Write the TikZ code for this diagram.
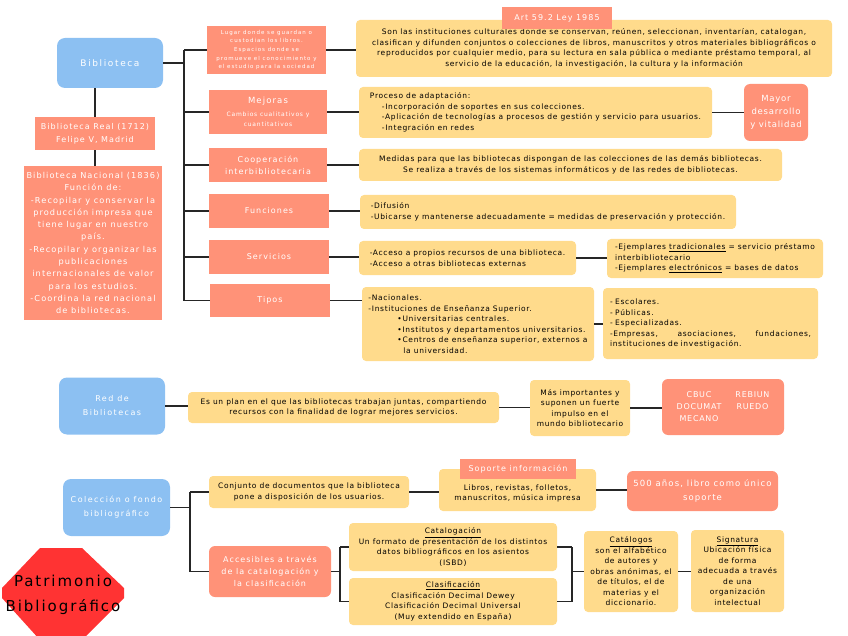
\documentclass[tikz,border=0pt]{standalone}
\usepackage{fontspec}
\newfontfamily\mapfont[LetterSpace=9]{DejaVu Sans}
\newfontfamily\tagfont[LetterSpace=13]{DejaVu Sans}
\newfontfamily\widefont[LetterSpace=18]{DejaVu Sans}

\definecolor{mapblue}{RGB}{140,192,242}
\definecolor{mapsalmon}{RGB}{255,146,120}
\definecolor{mapyellow}{RGB}{255,219,140}
\definecolor{mapred}{RGB}{255,51,51}

\tikzset{
    boxsize/.style 2 args={minimum width=#1pt, minimum height=#2pt},
    hub/.style={fill=mapblue, rounded corners=8pt, text=white, align=center,
        inner sep=0pt, font=\widefont\fontsize{8}{14}\selectfont},
    branch/.style={fill=mapsalmon, text=white, align=center, inner sep=0pt,
        font=\tagfont\fontsize{8}{12}\selectfont},
    salmonbox/.style={branch, rounded corners=6pt, font=\mapfont\fontsize{8.5}{13}\selectfont},
    note/.style={fill=mapyellow, rounded corners=4pt, align=center, inner sep=0pt,
        font=\mapfont\fontsize{7.5}{10.5}\selectfont},
    link/.style={line width=1.8pt, black!85},
}

\begin{document}
\begin{tikzpicture}[x=1pt, y=-1pt]
    \useasboundingbox (0,0) rectangle (848,636);

    % Biblioteca and its history on the left
    \node[hub, boxsize={106}{50}, font=\widefont\fontsize{9}{12}\selectfont] (bib) at (110,63) {Biblioteca};
    \node[branch, boxsize={120}{33}, font=\tagfont\fontsize{8}{13}\selectfont] (real) at (95,133.5) {%
        Biblioteca Real (1712)\\Felipe V, Madrid};
    \node[branch, boxsize={138}{154}, font=\tagfont\fontsize{8.2}{12.3}\selectfont] (nac) at (93,243) {%
        Biblioteca Nacional (1836)\\Función de:\\-Recopilar y conservar la\\producción impresa que\\
        tiene lugar en nuestro\\país.\\-Recopilar y organizar las\\publicaciones\\
        internacionales de valor\\para los estudios.\\-Coordina la red nacional\\de bibliotecas.};

    % Branches of Biblioteca
    \coordinate (trunk) at (184,0);
    \node[branch, boxsize={119}{48}, font=\widefont\fontsize{5.5}{8.6}\selectfont] (lugar) at (266.5,50) {%
        Lugar donde se guardan o\\custodian los libros.\\Espacios donde se\\promueve el conocimiento y\\el estudio para la sociedad};
    \node[branch, boxsize={118}{44}, font=\tagfont\fontsize{8.5}{10}\selectfont] (mejoras) at (268,112) {%
        Mejoras\\[3pt]\tagfont\fontsize{6}{10}\selectfont Cambios cualitativos y\\\tagfont\fontsize{6}{10}\selectfont cuantitativos};
    \node[branch, boxsize={118}{34}] (coop) at (268,165) {Cooperación\\interbibliotecaria};
    \node[branch, boxsize={120}{34}] (func) at (269,211) {Funciones};
    \node[branch, boxsize={120}{34}] (serv) at (269,257) {Servicios};
    \node[branch, boxsize={120}{33}] (tipos) at (270,300.5) {Tipos};

    % Notes of the branches
    \node[note, boxsize={476}{57}] (art) at (594,48.5) {%
        Son las instituciones culturales donde se conservan, reúnen, seleccionan, inventarían, catalogan,\\
        clasifican y difunden conjuntos o colecciones de libros, manuscritos y otros materiales bibliográficos o\\
        reproducidos por cualquier medio, para su lectura en sala pública o mediante préstamo temporal, al\\
        servicio de la educación, la investigación, la cultura y la información};
    \node[branch, boxsize={110}{22}] (arttag) at (557,18) {Art 59.2 Ley 1985};
    \node[note, boxsize={353}{51}, align=left] (proc) at (535.5,112.5) {%
        Proceso de adaptación:\\
        \hspace*{12pt}-Incorporación de soportes en sus colecciones.\\
        \hspace*{12pt}-Aplicación de tecnologías a procesos de gestión y servicio para usuarios.\\
        \hspace*{12pt}-Integración en redes};
    \node[salmonbox, boxsize={64}{57}] (mayor) at (776,112.5) {Mayor\\desarrollo\\y vitalidad};
    \node[note, boxsize={423}{32}] (medidas) at (570.5,165) {%
        Medidas para que las bibliotecas dispongan de las colecciones de las demás bibliotecas.\\
        Se realiza a través de los sistemas informáticos y de las redes de bibliotecas.};
    \node[note, boxsize={376}{34}, align=left] (difu) at (548,212) {%
        -Difusión\\-Ubicarse y mantenerse adecuadamente = medidas de preservación y protección.};
    \node[note, boxsize={217}{34}, align=left] (acceso) at (467.5,258) {%
        -Acceso a propios recursos de una biblioteca.\\-Acceso a otras bibliotecas externas};
    \node[note, boxsize={216}{39}, align=left] (ejem) at (715,258.5) {%
        -Ejemplares \underline{tradicionales} = servicio préstamo\\interbibliotecario\\
        -Ejemplares \underline{electrónicos} = bases de datos};
    \node[note, boxsize={232}{74}, align=left] (nacion) at (478,324) {%
        -Nacionales.\\-Instituciones de Enseñanza Superior.\\
        \hspace*{29pt}•Universitarias centrales.\\
        \hspace*{29pt}•Institutos y departamentos universitarios.\\
        \hspace*{29pt}•Centros de enseñanza superior, externos a\\
        \hspace*{35pt}la universidad.};
    \node[note, minimum height=71pt, inner xsep=7pt, text width=201pt, align=left] (escol) at (710.5,323.5) {%
        - Escolares.\\- Públicas.\\- Especializadas.\\
        -Empresas,\hfill asociaciones,\hfill fundaciones,\\instituciones de investigación.};

    % Connectors of the Biblioteca part
    \draw[link] (real.north) -- (real.north |- bib.south);
    \draw[link] (real.south) -- (real.south |- nac.north);
    \draw[link] (bib.east) -- (bib.east -| trunk);
    \draw[link] (trunk |- lugar.west) -- (trunk |- tipos.west);
    \foreach \n in {lugar, mejoras, coop, func, serv, tipos} {
        \draw[link] (trunk |- \n.west) -- (\n.west);
    }
    \draw[link] (lugar.east) -- (lugar.east -| art.west);
    \draw[link] (mejoras.east) -- (mejoras.east -| proc.west);
    \draw[link] (proc.east) -- (proc.east -| mayor.west);
    \draw[link] (coop.east) -- (coop.east -| medidas.west);
    \draw[link] (func.east) -- (func.east -| difu.west);
    \draw[link] (serv.east) -- (serv.east -| acceso.west);
    \draw[link] (acceso.east) -- (acceso.east -| ejem.west);
    \draw[link] (tipos.east) -- (tipos.east -| nacion.west);
    \draw[link] (nacion.east) -- (nacion.east -| escol.west);

    % Red de Bibliotecas (middle row)
    \node[hub, boxsize={106}{57}] (red) at (112,406) {Red de\\Bibliotecas};
    \node[note, boxsize={311}{31}] (plan) at (343.5,407.5) {%
        Es un plan en el que las bibliotecas trabajan juntas, compartiendo\\
        recursos con la finalidad de lograr mejores servicios.};
    \node[note, boxsize={100}{56}] (mas) at (580,408) {%
        Más importantes y\\suponen un fuerte\\impulso en el\\mundo bibliotecario};
    \node[salmonbox, boxsize={122}{56}, font=\mapfont\fontsize{8}{12}\selectfont] (cbuc) at (723,407) {%
        \begin{tabular}{@{}c@{\hspace{14pt}}c@{}}CBUC & REBIUN\\DOCUMAT & RUEDO\\MECANO & \end{tabular}};
    \draw[link] (red.east) -- (red.east -| plan.west);
    \draw[link] (plan.east) -- (plan.east -| mas.west);
    \draw[link] (mas.east) -- (mas.east -| cbuc.west);

    % Coleccion o fondo bibliografico (bottom row)
    \coordinate (trunkb) at (190,0);
    \coordinate (trunkc) at (340,0);
    \coordinate (trunkd) at (572,0);
    \node[hub, boxsize={107}{57}] (col) at (116.5,507.5) {Colección o fondo\\bibliográfico};
    \node[note, boxsize={200}{32}] (conj) at (309,492) {%
        Conjunto de documentos que la biblioteca\\pone a disposición de los usuarios.};
    \node[note, boxsize={157}{42}] (sop) at (517.5,490) {%
        \rule{0pt}{13pt}Libros, revistas, folletos,\\manuscritos, música impresa};
    \node[branch, boxsize={116}{20}] (soptag) at (518,469) {Soporte información};
    \node[salmonbox, boxsize={151}{40}, font=\tagfont\fontsize{8.5}{14}\selectfont] (quin) at (702.5,491) {%
        500 años, libro como único\\soporte};
    \node[salmonbox, boxsize={122}{51}, font=\tagfont\fontsize{8}{12}\selectfont] (acc) at (270,571.5) {%
        Accesibles a través\\de la catalogación y\\la clasificación};
    \node[note, boxsize={208}{48}] (catal) at (453,547) {%
        \underline{Catalogación}\\Un formato de presentación de los distintos\\
        datos bibliográficos en los asientos\\(ISBD)};
    \node[note, boxsize={208}{47}] (clasi) at (453,601.5) {%
        \underline{Clasificación}\\Clasificación Decimal Dewey\\
        Clasificación Decimal Universal\\(Muy extendido en España)};
    \node[note, boxsize={94}{81}] (catlg) at (631,571.5) {%
        \underline{Catálogos}\\son el alfabético\\de autores y\\obras anónimas, el\\
        de títulos, el de\\materias y el\\diccionario.};
    \node[note, boxsize={93}{82}] (signa) at (737.5,571) {%
        \underline{Signatura}\\Ubicación física\\de forma\\adecuada a través\\de una\\
        organización\\intelectual};

    \draw[link] (col.east) -- (col.east -| trunkb);
    \draw[link] (trunkb |- conj.west) -- (trunkb |- acc.west);
    \draw[link] (trunkb |- conj.west) -- (conj.west);
    \draw[link] (trunkb |- acc.west) -- (acc.west);
    \draw[link] (conj.east) -- (conj.east -| sop.west);
    \draw[link] (sop.east) -- (sop.east -| quin.west);
    \draw[link] (acc.east) -- (acc.east -| trunkc);
    \draw[link] (trunkc |- catal.west) -- (trunkc |- clasi.west);
    \draw[link] (trunkc |- catal.west) -- (catal.west);
    \draw[link] (trunkc |- clasi.west) -- (clasi.west);
    \draw[link] (catal.east) -- (catal.east -| trunkd);
    \draw[link] (clasi.east) -- (clasi.east -| trunkd);
    \draw[link] (trunkd |- catal.east) -- (trunkd |- clasi.east);
    \draw[link] (trunkd |- catlg.west) -- (catlg.west);
    \draw[link] (catlg.east) -- (catlg.east -| signa.west);

    % Patrimonio bibliografico
    \fill[mapred] (40,548) -- (82,548) -- (124,588) -- (124,598) -- (82,640)
        -- (40,640) -- (2,598) -- (2,588) -- cycle;
    \node[align=center, inner sep=0pt, font=\tagfont\fontsize{15}{25}\selectfont] (patri) at (63,595) {%
        Patrimonio\\Bibliográfico};

\end{tikzpicture}
\end{document}
